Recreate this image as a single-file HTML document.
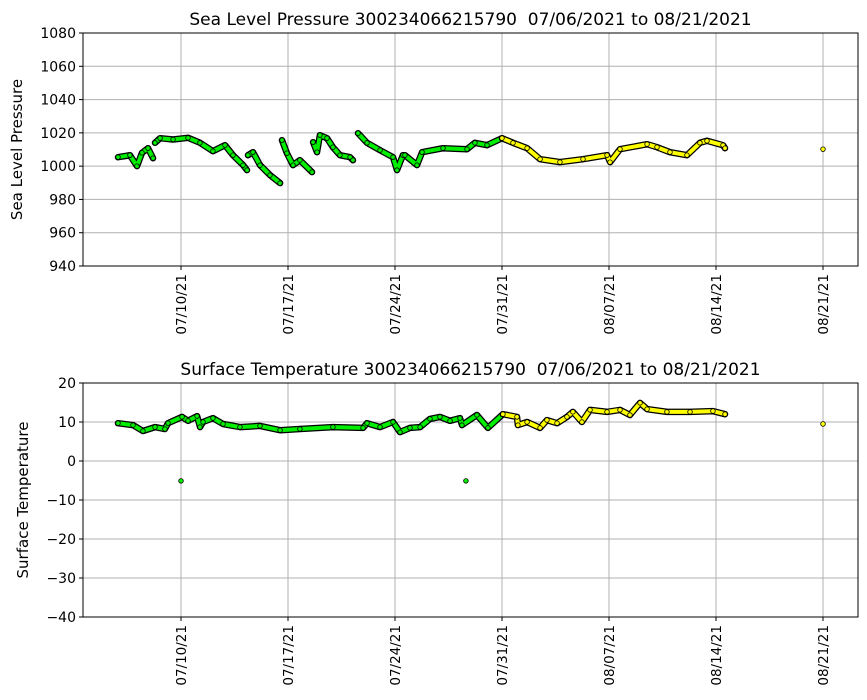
<!DOCTYPE html>
<html><head><meta charset="utf-8"><style>
body{margin:0;background:#fff;}
svg{display:block;font-family:"DejaVu Sans","Liberation Sans",sans-serif;}
text{white-space:pre;}
</style></head><body>
<svg id="chart" width="867" height="700"></svg>
<script>
// days since 07/10/21
const dateTicks = [0,7,14,21,28,35,42];
const dateLabels = ["07/10/21","07/17/21","07/24/21","07/31/21","08/07/21","08/14/21","08/21/21"];
const presTicks = [940,960,980,1000,1020,1040,1060,1080];
const tempTicks = [-40,-30,-20,-10,0,10,20];
// pressure green (null = gap)
const presGreenT = [-4.12,-3.34,-2.88,-2.55,-2.16,-1.83,null,-1.70,-1.37,-0.52,0.46,1.24,2.09,2.88,3.40,4.06,4.32,null,4.38,4.71,5.17,5.82,6.48,null,6.61,6.93,7.33,7.78,8.57,null,8.64,8.90,9.09,9.55,9.94,10.40,11.06,11.25,null,11.58,12.17,13.02,13.87,14.13,14.52,14.65,15.44,15.77,17.14,18.71,19.23,20.02,21.00];
const presGreenV = [1005.4,1006.6,1000,1008,1010.8,1004.8,null,1014,1016.8,1016,1017,1014,1009,1012.6,1006.6,1000.6,997.6,null,1006.6,1008.4,1000.6,994.6,989.8,null,1015.6,1007.8,1000.6,1003.6,996.4,null,1014.4,1008.4,1018.6,1016.8,1011.4,1006.6,1005.4,1003.6,null,1019.8,1014,1009.6,1005.4,997.6,1006.6,1006.6,1000.6,1008.4,1010.8,1010.2,1014,1012.6,1016.8];
const presYellowT = [21.00,21.72,22.64,23.49,24.79,26.30,27.87,28.07,28.72,30.49,31.14,31.99,33.10,33.95,34.41,35.46,35.59,null,42.0];
const presYellowV = [1016.8,1014,1010.8,1004.2,1002.4,1004.2,1006.6,1002.4,1010.2,1013.2,1011.4,1008.4,1006.6,1014,1015.2,1012.6,1010.8,null,1010.2];
const tempGreenT = [-4.12,-3.14,-2.49,-1.70,-1.05,-0.85,0.07,0.46,1.05,1.24,1.44,2.09,2.75,3.86,5.17,6.48,7.78,9.94,11.91,12.17,13.02,13.87,14.33,14.98,15.64,16.29,16.94,17.60,18.25,18.38,19.36,20.08,21.06];
const tempGreenV = [9.7,9.2,7.7,8.7,8.2,9.7,11.3,10.3,11.5,8.7,10,11,9.5,8.7,9,7.9,8.2,8.7,8.5,9.7,8.7,10,7.4,8.5,8.7,10.8,11.3,10.3,11,9.2,11.8,8.5,12];
const tempYellowT = [21.06,21.98,22.04,22.64,23.49,23.94,24.60,25.25,25.64,26.23,26.76,27.87,28.72,29.37,30.03,30.49,31.79,33.30,34.80,35.59,null,42.0];
const tempYellowV = [12,11.3,9.2,10,8.5,10.5,9.7,11.3,12.6,10,13.1,12.6,13.1,11.8,14.9,13.3,12.6,12.6,12.8,12,null,9.5];
const tempOutT = [0.0,18.64];
const tempOutV = [-5.1,-5.1];

const NS="http://www.w3.org/2000/svg";
const svg=document.getElementById('chart');
function mk(tag,attrs,parent){const e=document.createElementNS(NS,tag);for(const k in attrs)e.setAttribute(k,attrs[k]);(parent||svg).appendChild(e);return e;}
const X0=83,X1=858;
const xs=t=>181+t*(107/7);

function panel(top,bottom,ymin,ymax,ticks,title,ylabel,key){
  const g=mk('g',{});
  
  
  const ys=v=>bottom-(v-ymin)/(ymax-ymin)*(bottom-top);
  dateTicks.forEach((d,i)=>{
    const l=mk('line',{x1:xs(d),x2:xs(d),y1:top,y2:bottom,stroke:'#b0b0b0','stroke-width':1},g);
    
    
    mk('line',{x1:xs(d),x2:xs(d),y1:bottom,y2:bottom+4,stroke:'#000'},g);
    const tx=mk('text',{x:0,y:0,'font-size':13.5,'text-anchor':'end',transform:`translate(${xs(d)+5},${bottom+8}) rotate(-90)`},g);
    tx.textContent=dateLabels[i];
    
    
  });
  ticks.forEach(v=>{
    const l=mk('line',{x1:X0,x2:X1,y1:ys(v),y2:ys(v),stroke:'#b0b0b0','stroke-width':1},g);
    
    
    mk('line',{x1:X0-4,x2:X0,y1:ys(v),y2:ys(v),stroke:'#000'},g);
    const tx=mk('text',{x:X0-7,y:ys(v)+5,'font-size':14,'text-anchor':'end'},g);
    tx.textContent=String(v).replace('-','\u2212');
    
    
  });
  const tt=mk('text',{x:(X0+X1)/2,y:top-8,'font-size':17,'text-anchor':'middle'},g);
  tt.textContent=title;
  
  
  const yl=mk('text',{x:0,y:0,'font-size':15,'text-anchor':'middle',transform:`translate(${key==='pressure'?22:28},${(top+bottom)/2}) rotate(-90)`},g);
  yl.textContent=ylabel;
  
  
  return {g,ys,top,bottom};
}
function series(p,T,V,color,name){
  let d='';let pen=false;
  for(let i=0;i<T.length;i++){
    if(T[i]===null){pen=false;continue;}
    d+=(pen?'L':'M')+xs(T[i]).toFixed(1)+' '+p.ys(V[i]).toFixed(1)+' ';pen=true;
  }
  const b=mk('path',{d:d,fill:'none',stroke:'#000','stroke-width':6.5,'stroke-linejoin':'round','stroke-linecap':'round'},p.g);
  
  
  const c=mk('path',{d:d,fill:'none',stroke:color,'stroke-width':4,'stroke-linejoin':'round','stroke-linecap':'round'},p.g);
  
  
  for(let i=0;i<T.length;i++){
    if(T[i]===null)continue;
    const m=mk('circle',{cx:xs(T[i]),cy:p.ys(V[i]),r:2.3,fill:color,stroke:'#000','stroke-width':0.8},p.g);
    
    
  }
}
function points(p,T,V,color,name){
  for(let i=0;i<T.length;i++){
    const m=mk('circle',{cx:xs(T[i]),cy:p.ys(V[i]),r:2.3,fill:color,stroke:'#000','stroke-width':0.8},p.g);
    
    
  }
}
const p1=panel(33,266,940,1080,presTicks,'Sea Level Pressure 300234066215790  07/06/2021 to 08/21/2021','Sea Level Pressure','pressure');
series(p1,presGreenT,presGreenV,'#00ee00','pressure-green-series');
series(p1,presYellowT,presYellowV,'#ffff00','pressure-yellow-series');
const p2=panel(383,617,-40,20,tempTicks,'Surface Temperature 300234066215790  07/06/2021 to 08/21/2021','Surface Temperature','temperature');
series(p2,tempGreenT,tempGreenV,'#00ee00','temperature-green-series');
series(p2,tempYellowT,tempYellowV,'#ffff00','temperature-yellow-series');
points(p2,tempOutT,tempOutV,'#00ee00','temperature-outlier-point');
[p1,p2].forEach(p=>{
  const r=mk('rect',{x:X0,y:p.top,width:X1-X0,height:p.bottom-p.top,fill:'none',stroke:'#000','stroke-width':1},p.g);
  
  
});
</script>
</body></html>
